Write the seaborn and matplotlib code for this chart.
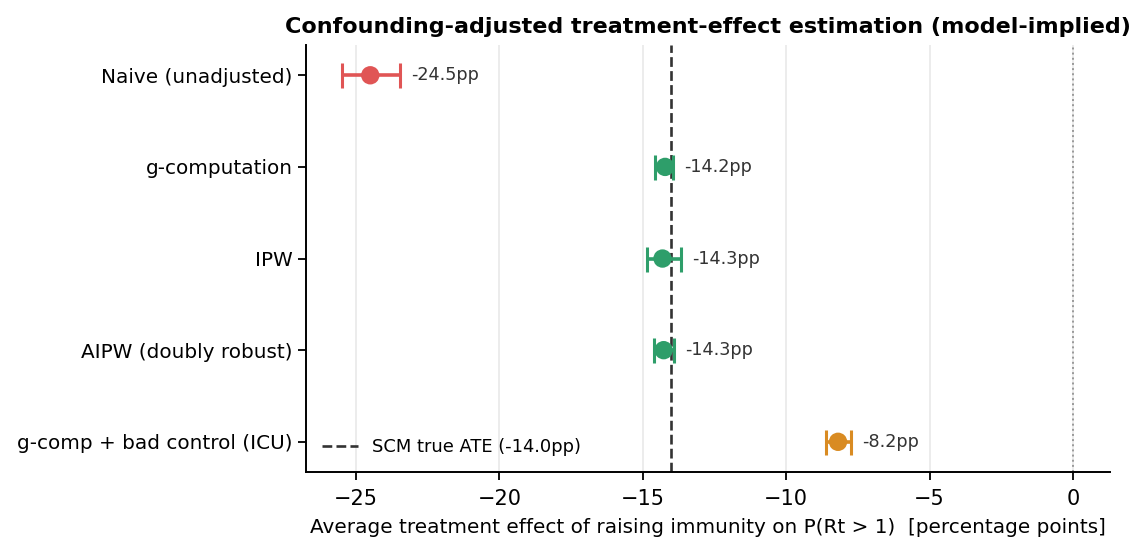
import matplotlib
matplotlib.use("Agg")
import matplotlib.pyplot as plt
import seaborn as sns
import pandas as pd

methods = ["Naive (unadjusted)", "g-computation", "IPW", "AIPW (doubly robust)",
           "g-comp + bad control (ICU)"]
ate = [-24.5, -14.22, -14.31, -14.27, -8.19]
ci_lo = [-25.47, -14.57, -14.85, -14.62, -8.62]
ci_hi = [-23.47, -13.95, -13.66, -13.92, -7.74]
groups = ["naive", "adjusted", "adjusted", "adjusted", "bad"]
true_ate = -14.0

palette = {"naive": "#e05555", "adjusted": "#2e9e6a", "bad": "#d98b22"}

df = pd.DataFrame({"method": methods, "ate": ate, "lo": ci_lo, "hi": ci_hi, "group": groups})

sns.set_style("ticks")
plt.rcParams["font.family"] = ["DejaVu Sans"]
plt.rcParams["text.color"] = "black"
plt.rcParams["axes.labelcolor"] = "black"
plt.rcParams["xtick.color"] = "black"
plt.rcParams["ytick.color"] = "black"
plt.rcParams["axes.edgecolor"] = "black"

fig = plt.figure(figsize=(11.47, 5.56), dpi=100)
ax = fig.add_axes([0.2668, 0.151, 0.7009, 0.768])

ax.grid(axis="x", color="#ebebeb", linewidth=1.3, zorder=0)
ax.set_axisbelow(True)

for i, row in df.iterrows():
    c = palette[row["group"]]
    ax.errorbar(row["ate"], i, xerr=[[row["ate"] - row["lo"]], [row["hi"] - row["ate"]]],
                fmt="none", ecolor=c, elinewidth=2.6, capsize=9, capthick=2.2, zorder=3)

sns.scatterplot(data=df, x="ate", y="method", hue="group", palette=palette, s=175,
                edgecolor="none", legend=False, ax=ax, zorder=4)

for i, row in df.iterrows():
    ax.annotate(f"{row['ate']:.1f}pp", xy=(row["hi"], i), xytext=(8, 0),
                textcoords="offset points", va="center", ha="left",
                fontsize=12.7, color="#333333")

ax.axvline(true_ate, color="#333333", linestyle="--", linewidth=1.9,
           label=f"SCM true ATE ({true_ate:.1f}pp)", zorder=2)
ax.axvline(0, color="#999999", linestyle=":", linewidth=1.4, zorder=2)

ax.set_xlim(-26.74, 1.29)
ax.set_ylim(4.33, -0.33)
ax.set_ylabel("")
ax.set_xlabel("Average treatment effect of raising immunity on P(Rt > 1)  [percentage points]",
              fontsize=14.4, labelpad=7)
ax.set_title("Confounding-adjusted treatment-effect estimation (model-implied)",
             fontsize=16, fontweight="bold", pad=9)
ax.tick_params(axis="y", labelsize=14.4, length=6, width=1.3)
ax.tick_params(axis="x", labelsize=15, length=6, width=1.3, pad=6)
for s in ["top", "right"]:
    ax.spines[s].set_visible(False)
for s in ["left", "bottom"]:
    ax.spines[s].set_linewidth(1.4)

ax.legend(loc="lower left", frameon=False, fontsize=12.9)

fig.savefig("out.png", dpi=100)
